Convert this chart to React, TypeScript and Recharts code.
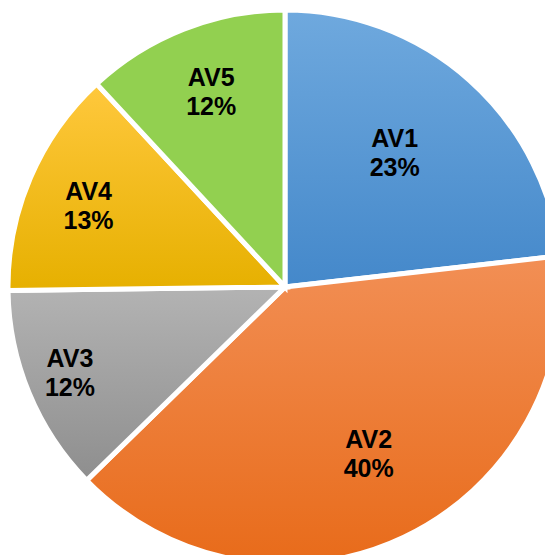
import { PieChart, Pie, Cell } from "recharts"

const names = ["AV1", "AV2", "AV3", "AV4", "AV5"]
const shares = [23.2, 39.5, 12.1, 13.3, 11.9]
const pctLabels = ["23%", "40%", "12%", "13%", "12%"]

// slice gradients, top -> bottom
const gradTop = ["#6fa9de", "#f28f55", "#b3b3b3", "#ffc83d", "#92d050"]
const gradBottom = ["#4488ca", "#e86b1a", "#8e8e8e", "#e6b000", "#92d050"]
// excel "best fit" label placement: distance as fraction of radius, angle nudge in degrees
const labelR = [0.626, 0.673, 0.836, 0.767, 0.753]
const labelNudge = [2.5, 1.3, -0.7, 0.8, -0.7]

const data = names.map((name, i) => ({ name, value: shares[i], pct: pctLabels[i] }))

const RAD = Math.PI / 180

function SliceLabel(props: any) {
  const { cx, cy, midAngle, outerRadius, index } = props
  const r = outerRadius * labelR[index]
  const a = midAngle + labelNudge[index]
  const x = cx + r * Math.cos(-a * RAD)
  const y = cy + r * Math.sin(-a * RAD)
  return (
    <text x={x} y={y} textAnchor="middle" fill="#000" fontFamily="'Liberation Sans', Arial, sans-serif" fontWeight={700} fontSize={25}>
      <tspan x={x} y={y - 6}>{data[index].name}</tspan>
      <tspan x={x} y={y + 23.5}>{data[index].pct}</tspan>
    </text>
  )
}

export default function App() {
  return (
    <div style={{ position: "fixed", left: 0, top: 0, width: 545, height: 555, background: "#fff" }}>
      <PieChart width={545} height={555} margin={{ top: 0, right: 0, bottom: 0, left: 0 }}>
        <defs>
          {names.map((n, i) => (
            <linearGradient key={n} id={`g${i}`} x1="0" y1="0" x2="0" y2="1">
              <stop offset="0%" stopColor={gradTop[i]} />
              <stop offset="100%" stopColor={gradBottom[i]} />
            </linearGradient>
          ))}
        </defs>
        <Pie
          data={data}
          dataKey="value"
          cx={285}
          cy={287}
          outerRadius={277}
          startAngle={90}
          endAngle={-270}
          stroke="#fff"
          strokeWidth={5}
          labelLine={false}
          label={SliceLabel}
          isAnimationActive={false}
        >
          {data.map((d, i) => (
            <Cell key={d.name} fill={`url(#g${i})`} />
          ))}
        </Pie>
      </PieChart>
    </div>
  )
}
